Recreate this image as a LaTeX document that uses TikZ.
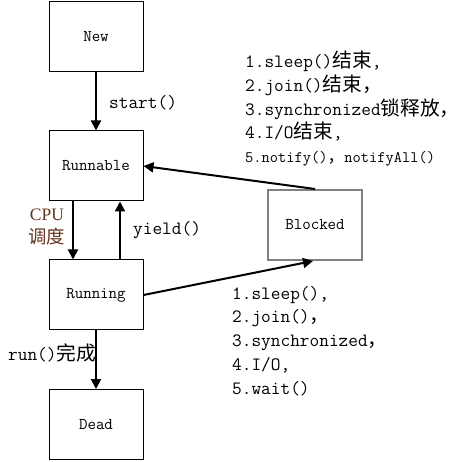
\documentclass[tikz,border=0pt]{standalone}
\usepackage{fontspec}
\setmainfont{Liberation Serif}
\newfontfamily\cjk[Scale=1.05]{Noto Sans CJK SC}
\newcommand{\zh}[1]{{\cjk #1}}
\usepackage{xcolor}
\definecolor{cpubrown}{RGB}{100,50,30}
\usepackage{tikz}
\usetikzlibrary{arrows.meta}
\tikzset{>={Triangle[length=10pt,width=10pt]}}

\begin{document}
\begin{tikzpicture}[x=1pt, y=-1pt,
    statebox/.style={draw, line width=1pt, minimum width=94pt, minimum height=70pt, inner sep=0pt, font=\fontsize{16.5}{18}\selectfont\ttfamily},
    trans/.style={->, line width=2pt},
    lbl/.style={inner sep=0pt, font=\fontsize{18.8}{23.7}\selectfont\ttfamily}]
 \useasboundingbox (0,0) rectangle (474,462);

 % States
 \node[statebox] (new) at (96,37) {New};
 \node[statebox] (runnable) at (96,166) {Runnable};
 \node[statebox] (running) at (96,295) {Running};
 \node[statebox] (dead) at (96,424.5) {Dead};
 \node[statebox, draw=gray, line width=2pt] (blocked) at (315,225) {Blocked};

 % Transitions
 \draw[trans] (new) -- (runnable);
 \draw[trans] ([xshift=-23pt]runnable.south) -- ([xshift=-23pt]running.north);
 \draw[trans] ([xshift=24pt]running.north) -- ([xshift=24pt]runnable.south);
 \draw[trans] (running) -- (dead);
 \draw[trans] (running.east) -- ([xshift=-2pt]blocked.south);
 \draw[trans] (blocked.north) -- (runnable.east);

 % Labels
 \node[lbl, anchor=west] (lstart) at (109,103) {start()};
 \node[lbl, anchor=west] (lyield) at (133,230) {yield()};
 \node[inner sep=0pt, align=center, text=cpubrown, font=\fontsize{17.5}{23}\selectfont] (lcpu) at (47,227) {CPU\\\zh{调度}};
 \node[lbl, anchor=west] (lrun) at (8,353) {run()\zh{完成}};

 \node[lbl, anchor=north west, align=left] (lwake) at (245,51) {1.sleep()\zh{结束},\\2.join()\zh{结束，}\\3.synchronized\zh{锁释放，}\\4.I/O\zh{结束},\\\fontsize{16}{23.7}\selectfont 5.notify()\zh{，}notifyAll()};
 \node[lbl, anchor=north west, align=left] (lblock) at (232,286) {1.sleep(),\\2.join()\zh{，}\\3.synchronized\zh{，}\\4.I/O,\\5.wait()};

\end{tikzpicture}
\end{document}
